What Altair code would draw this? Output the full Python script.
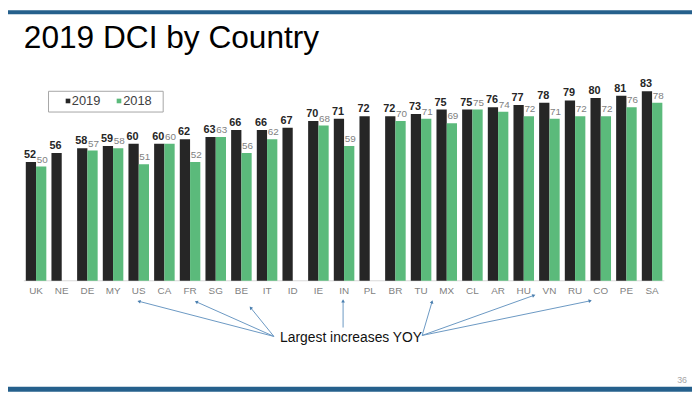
import math
import altair as alt
import pandas as pd

# ---------------- data ----------------
countries = ["UK", "NE", "DE", "MY", "US", "CA", "FR", "SG", "BE", "IT", "ID", "IE", "IN",
             "PL", "BR", "TU", "MX", "CL", "AR", "HU", "VN", "RU", "CO", "PE", "SA"]
dci_2019 = [52, 56, 58, 59, 60, 60, 62, 63, 66, 66, 67, 70, 71,
            72, 72, 73, 75, 75, 76, 77, 78, 79, 80, 81, 83]
dci_2018 = [50, None, 57, 58, 51, 60, 52, 63, 56, 62, None, 68, 59,
            None, 70, 71, 69, 75, 74, 72, 71, 72, 72, 76, 78]
years = ["2019", "2018"]
year_colors = ["#262626", "#5BBA7B"]

title_text = "2019 DCI by Country"
callout_text = "Largest increases YOY"
page_number = "36"
arrow_targets = ["US", "FR", "BE", "IN", "TU", "VN", "CO"]

# ---------------- layout (annotation geometry, chart pixel space) ----------------
W, H = 692, 386
FONT = "Liberation Sans"
arrow_start = {"US": (269, 330), "FR": (269, 330), "BE": (269, 330), "IN": (339, 321),
               "TU": (419, 329), "VN": (419, 329), "CO": (419, 329)}
arrow_tip = {"US": (132.5, 294.5), "FR": (190.5, 295), "BE": (245.5, 301), "IN": (339, 294),
             "TU": (429, 295), "VN": (532, 288.5), "CO": (589, 294)}

rows = []
for c, a, b in zip(countries, dci_2019, dci_2018):
    rows.append({"country": c, "year": "2019", "value": a})
    if b is not None:
        rows.append({"country": c, "year": "2018", "value": b})
df = pd.DataFrame(rows)

arrows = []
for t in arrow_targets:
    (x0, y0), (x1, y1) = arrow_start[t], arrow_tip[t]
    ang = math.degrees(math.atan2(x1 - x0, -(y1 - y0))) % 360
    arrows.append({"t": t, "x0": x0, "y0": y0, "x1": x1, "y1": y1, "ang": ang})
adf = pd.DataFrame(arrows)

one = alt.Data(values=[{}])

x = alt.X("country:N", sort=countries,
          scale=alt.Scale(domain=countries, range=[15.4, 664.6],
                          paddingInner=0.2, paddingOuter=0.1),
          axis=None)
xoff = alt.XOffset("year:N", scale=alt.Scale(domain=years))
y = alt.Y("value:Q", scale=alt.Scale(domain=[0, 100], range=[273.7, 42.7]), axis=None)
color = alt.Color("year:N", scale=alt.Scale(domain=years, range=year_colors), legend=None)

base = alt.Chart(df)

bars = base.mark_bar().encode(x=x, xOffset=xoff, y=y, color=color)

lab19 = base.transform_filter(alt.datum.year == "2019").mark_text(
    font=FONT, fontSize=11, fontWeight="bold", color="#262626",
    baseline="alphabetic", dy=-4, dx=-1).encode(x=x, xOffset=xoff, y=y, text="value:Q")

lab18 = base.transform_filter(alt.datum.year == "2018").mark_text(
    font=FONT, fontSize=10, color="#7F7F7F",
    baseline="alphabetic", dy=-4, dx=1).encode(x=x, xOffset=xoff, y=y, text="value:Q")

xlabels = base.transform_filter(alt.datum.year == "2019").mark_text(
    font=FONT, fontSize=10, color="#7F7F7F", baseline="middle").encode(
    x=x, y=alt.value(283.7), text="country:N")

baseline = alt.Chart(one).mark_rule(color="#D9D9D9", strokeWidth=1).encode(
    x=alt.value(16), x2=alt.value(664), y=alt.value(273.7))

top_band = alt.Chart(one).mark_rect(color="#25608C").encode(
    x=alt.value(0), x2=alt.value(W), y=alt.value(0), y2=alt.value(4))
bottom_band = alt.Chart(one).mark_rect(color="#25608C").encode(
    x=alt.value(0), x2=alt.value(W), y=alt.value(381), y2=alt.value(386))

title = alt.Chart(one).mark_text(
    font=FONT, fontSize=32, color="#000000", align="left", baseline="alphabetic",
    text=title_text).encode(x=alt.value(16), y=alt.value(38.5))

legend_box = alt.Chart(one).mark_rect(fill="white", stroke="#A6A6A6", strokeWidth=1).encode(
    x=alt.value(41), x2=alt.value(157), y=alt.value(82), y2=alt.value(103))
leg_sq19 = alt.Chart(one).mark_square(color=year_colors[0], size=22, opacity=1).encode(
    x=alt.value(60.7), y=alt.value(91.8))
leg_sq18 = alt.Chart(one).mark_square(color=year_colors[1], size=22, opacity=1).encode(
    x=alt.value(112.3), y=alt.value(91.8))
leg_t19 = alt.Chart(one).mark_text(font=FONT, fontSize=13, color="#404040", align="left",
                                   baseline="middle", text=years[0]).encode(
    x=alt.value(64.5), y=alt.value(92.2))
leg_t18 = alt.Chart(one).mark_text(font=FONT, fontSize=13, color="#404040", align="left",
                                   baseline="middle", text=years[1]).encode(
    x=alt.value(116.5), y=alt.value(92.2))

arrow_lines = alt.Chart(adf).mark_rule(color="#6A98C2", strokeWidth=1).encode(
    x=alt.X("x0:Q", scale=None), y=alt.Y("y0:Q", scale=None),
    x2="x1:Q", y2="y1:Q")
arrow_heads = alt.Chart(adf).mark_point(shape="triangle-up", filled=True, size=14,
                                        color="#4A7FAF", opacity=1).encode(
    x=alt.X("x1:Q", scale=None), y=alt.Y("y1:Q", scale=None),
    angle=alt.Angle("ang:Q", scale=None))

callout = alt.Chart(one).mark_text(font=FONT, fontSize=14, color="#111111", align="left",
                                   baseline="middle", text=callout_text).encode(
    x=alt.value(275.3), y=alt.value(332))

pnum = alt.Chart(one).mark_text(font=FONT, fontSize=9, color="#A6A6A6", align="right",
                                baseline="alphabetic", text=page_number).encode(
    x=alt.value(687), y=alt.value(377))

chart = alt.layer(
    top_band, bottom_band, title, baseline, bars, lab19, lab18, xlabels,
    legend_box, leg_sq19, leg_sq18, leg_t19, leg_t18,
    arrow_lines, arrow_heads, callout, pnum
).resolve_scale(x="independent", y="independent").properties(
    width=W, height=H, padding=0, autosize=alt.AutoSizeParams(type="none")
).configure_view(stroke=None)

chart.save("out.html", embed_options={"renderer": "svg", "actions": False})
